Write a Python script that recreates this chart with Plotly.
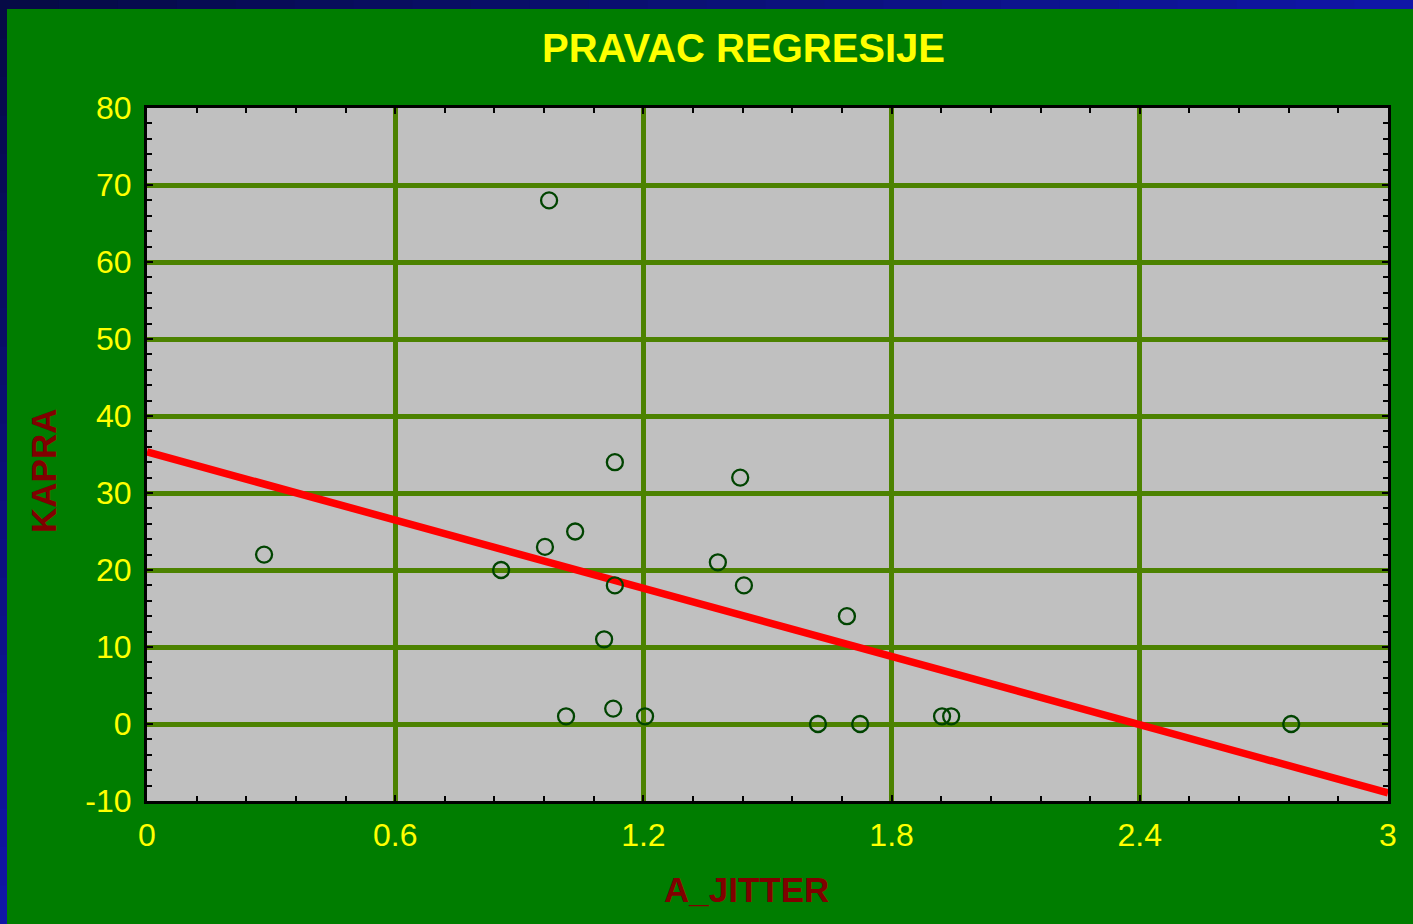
import numpy as np
import plotly.graph_objects as go

# ---- data ----
a_jitter = [0.283, 0.972, 0.856, 0.962, 1.035, 1.131, 1.131, 1.105, 1.013, 1.127,
            1.204, 1.380, 1.434, 1.443, 1.692, 1.622, 1.724, 1.922, 1.944, 2.766]
kapra = [22, 68, 20, 23, 25, 34, 18, 11, 1, 2,
         1, 21, 32, 18, 14, 0, 0, 1, 1, 0]
x_ticks = [0, 0.6, 1.2, 1.8, 2.4, 3]
x_tick_labels = ["0", "0.6", "1.2", "1.8", "2.4", "3"]
y_ticks = [-10, 0, 10, 20, 30, 40, 50, 60, 70, 80]
y_tick_labels = ["-10", "0", "10", "20", "30", "40", "50", "60", "70", "80"]
x_range = [0, 3]
y_range = [-10, 80]

# regression line fitted from the data
slope, intercept = np.polyfit(a_jitter, kapra, 1)
line_x = np.array(x_range, dtype=float)
line_y = intercept + slope * line_x

W, H = 1413, 924
ML, MR, MT, MB = 147, 25, 108, 123
PW, PH = W - ML - MR, H - MT - MB


def px_to_paper_x(px):
    return (px - ML) / PW


def py_to_paper_y(py):
    return (H - MB - py) / PH


GREEN_BG = "#007D00"
GRID = "#4C8200"
YELLOW = "#FFFF00"
DARKRED = "#800000"

fig = go.Figure()
fig.add_trace(go.Scatter(
    x=line_x, y=line_y, mode="lines",
    line=dict(color="#FF0000", width=7.5),
    hoverinfo="skip", showlegend=False,
))
fig.add_trace(go.Scatter(
    x=a_jitter, y=kapra, mode="markers",
    marker=dict(symbol="circle-open", size=16, color="#004400",
                line=dict(width=2.3, color="#004400")),
    showlegend=False,
))

axis_common = dict(
    showgrid=True, gridcolor=GRID, gridwidth=5,
    zeroline=False,
    showline=True, linecolor="black", linewidth=3, mirror="ticks",
    ticks="inside", ticklen=6, tickwidth=2, tickcolor="black",
    tickfont=dict(family="Liberation Sans, Arial", size=32, color=YELLOW),
)

fig.update_xaxes(
    range=x_range, tickmode="array", tickvals=x_ticks, ticktext=x_tick_labels,
    minor=dict(dtick=0.12, tick0=0, ticks="inside", ticklen=5, tickwidth=2,
               tickcolor="black", showgrid=False),
    ticklabelstandoff=4,
    **axis_common,
)
fig.update_yaxes(
    range=y_range, tickmode="array", tickvals=y_ticks, ticktext=y_tick_labels,
    minor=dict(dtick=2, tick0=0, ticks="inside", ticklen=5, tickwidth=2,
               tickcolor="black", showgrid=False),
    ticklabelstandoff=6,
    **axis_common,
)

# blue frame (top and left) approximated gradient
shapes = []
n = 24


def lerp(c1, c2, t):
    return "#%02x%02x%02x" % tuple(int(round(a + (b - a) * t)) for a, b in zip(c1, c2))


dark = (6, 10, 70)
light = (16, 22, 166)
for i in range(n):
    x0p = i * W / n
    x1p = (i + 1) * W / n + 1
    shapes.append(dict(type="rect", xref="paper", yref="paper",
                       x0=px_to_paper_x(x0p), x1=px_to_paper_x(x1p),
                       y0=py_to_paper_y(9), y1=py_to_paper_y(0),
                       fillcolor=lerp(dark, light, i / (n - 1)),
                       line=dict(width=0), layer="above"))
for i in range(n):
    y0p = i * H / n
    y1p = (i + 1) * H / n + 1
    shapes.append(dict(type="rect", xref="paper", yref="paper",
                       x0=px_to_paper_x(0), x1=px_to_paper_x(7),
                       y0=py_to_paper_y(y1p), y1=py_to_paper_y(y0p),
                       fillcolor=lerp(dark, light, i / (n - 1)),
                       line=dict(width=0), layer="above"))

annotations = [
    dict(text="<b>PRAVAC REGRESIJE</b>", xref="paper", yref="paper",
         x=px_to_paper_x(743), y=py_to_paper_y(48), xanchor="center", yanchor="middle",
         showarrow=False, font=dict(family="Liberation Sans, Arial", size=40, color=YELLOW)),
    dict(text="<b>A_JITTER</b>", xref="paper", yref="paper",
         x=px_to_paper_x(746), y=py_to_paper_y(890), xanchor="center", yanchor="middle",
         showarrow=False, font=dict(family="Liberation Sans, Arial", size=35, color=DARKRED)),
    dict(text="<b>KAPRA</b>", xref="paper", yref="paper",
         x=px_to_paper_x(43), y=py_to_paper_y(471), xanchor="center", yanchor="middle",
         textangle=-90,
         showarrow=False, font=dict(family="Liberation Sans, Arial", size=35, color=DARKRED)),
]

fig.update_layout(
    width=W, height=H,
    margin=dict(l=ML, r=MR, t=MT, b=MB, pad=0),
    paper_bgcolor=GREEN_BG, plot_bgcolor="#C0C0C0",
    shapes=shapes, annotations=annotations,
    showlegend=False,
)

fig.write_html(
    "out.html",
    config={"displayModeBar": False},
    post_script="document.body.style.margin='0';document.body.style.padding='0';"
                "document.body.style.overflow='hidden';",
)
